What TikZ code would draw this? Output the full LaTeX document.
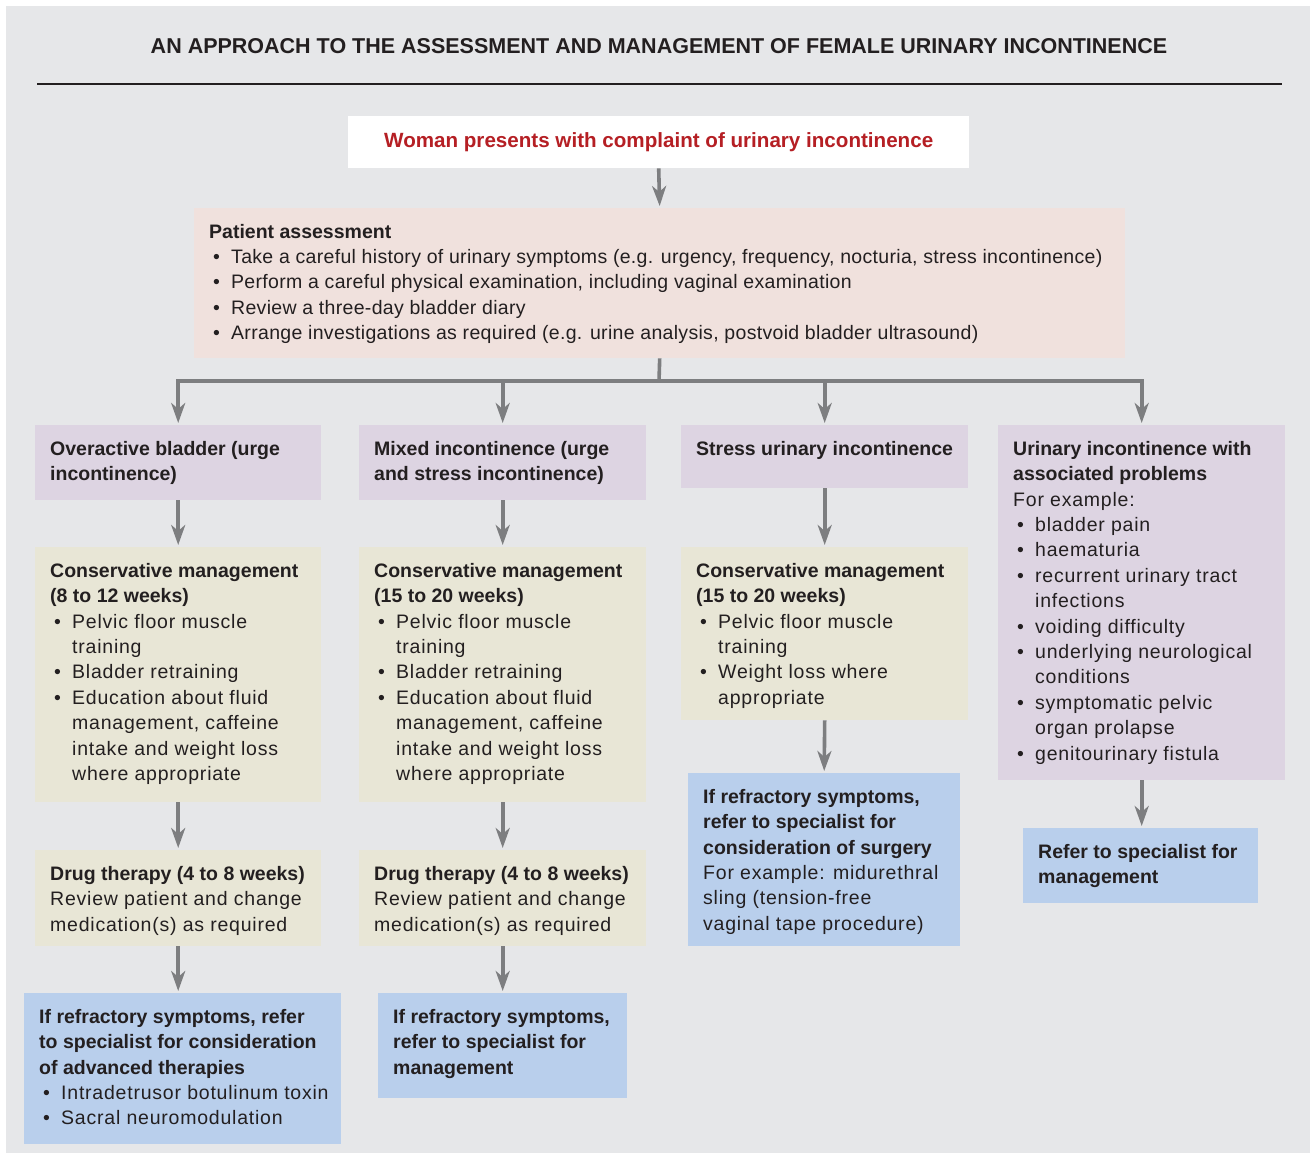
\documentclass[tikz,border=0pt]{standalone}
\usepackage{fontspec}
\setmainfont{Liberation Sans}[LetterSpace=4, BoldFeatures={LetterSpace=0}]
\usetikzlibrary{arrows.meta}
\definecolor{bg}{HTML}{E6E7E9}
\definecolor{pinkc}{HTML}{F0E1DD}
\definecolor{purc}{HTML}{DDD4E2}
\definecolor{beigec}{HTML}{E8E6D6}
\definecolor{bluec}{HTML}{B9CFEC}
\definecolor{arrc}{HTML}{7D7E80}
\definecolor{redc}{HTML}{B51F24}
\definecolor{txt}{HTML}{231F20}
\newcommand\B{\makebox[22pt][l]{\hspace{4pt}•}}
\newcommand\C{\hspace*{22pt}}
\newcommand\tight{\addfontfeature{LetterSpace=1.6}}
\tikzset{
  box/.style={anchor=north west, inner xsep=15pt, inner ysep=14pt, text=txt, draw=none},
  arr/.style={draw=arrc, line width=3.6pt, -{Stealth[length=20pt,width=14pt,inset=6pt]}, shorten >=2pt},
  ln/.style={draw=arrc, line width=3.6pt}
}
\newcommand\bx[7]{\node[box,fill=#6,minimum width=#4pt,minimum height=#5pt] (#1) at (#2,#3) {\makebox[\dimexpr#4pt-30pt\relax][l]{\parbox[t][\dimexpr#5pt-28pt\relax][t]{1000pt}{\raggedright\fontsize{19.5}{25.4}\selectfont\rule{0pt}{16pt}#7}}};}
\begin{document}
\begin{tikzpicture}[x=1pt,y=-1pt]
\useasboundingbox (0,0) rectangle (1310,1153);
\fill[bg] (6,6) rectangle (1310,1153);
\node[font=\bfseries\fontsize{21.5}{24}\selectfont, text=txt] (title) at (659,46) {AN APPROACH TO THE ASSESSMENT AND MANAGEMENT OF FEMALE URINARY INCONTINENCE};
\draw[txt, line width=1.3pt] (37,84) -- (1282,84);
\node[fill=white, minimum width=621pt, minimum height=52pt, anchor=north west, text=redc, font=\bfseries\fontsize{20.6}{24}\selectfont] (woman) at (348,116) {Woman presents with complaint of urinary incontinence};
\bx{assess}{194}{208}{931}{150}{pinkc}{\textbf{Patient assessment}\\
\B {\tight Take a careful history of urinary symptoms (e.g. urgency, frequency, nocturia, stress incontinence)}\\
\B {\tight Perform a careful physical examination, including vaginal examination}\\
\B {\tight Review a three-day bladder diary}\\
\B {\tight Arrange investigations as required (e.g. urine analysis, postvoid bladder ultrasound)}}
% categories
\bx{catA}{35}{425}{286}{75}{purc}{\textbf{Overactive bladder (urge\\ incontinence)}}
\bx{catB}{359}{425}{287}{75}{purc}{\textbf{Mixed incontinence (urge\\ and stress incontinence)}}
\bx{catC}{681}{425}{287}{63}{purc}{\textbf{Stress urinary incontinence}}
\bx{catD}{998}{425}{287}{355}{purc}{\textbf{Urinary incontinence with\\ associated problems}\\
For example:\\
\B bladder pain\\
\B haematuria\\
\B recurrent urinary tract\\ \C infections\\
\B voiding difficulty\\
\B underlying neurological\\ \C conditions\\
\B symptomatic pelvic\\ \C organ prolapse\\
\B genitourinary fistula}
% conservative
\bx{consA}{35}{547}{286}{255}{beigec}{\textbf{Conservative management\\ (8 to 12 weeks)}\\
\B Pelvic floor muscle\\ \C training\\
\B Bladder retraining\\
\B Education about fluid\\ \C management, caffeine\\ \C intake and weight loss\\ \C where appropriate}
\bx{consB}{359}{547}{287}{255}{beigec}{\textbf{Conservative management\\ (15 to 20 weeks)}\\
\B Pelvic floor muscle\\ \C training\\
\B Bladder retraining\\
\B Education about fluid\\ \C management, caffeine\\ \C intake and weight loss\\ \C where appropriate}
\bx{consC}{681}{547}{287}{173}{beigec}{\textbf{Conservative management\\ (15 to 20 weeks)}\\
\B Pelvic floor muscle\\ \C training\\
\B Weight loss where\\ \C appropriate}
% drug
\bx{drugA}{35}{850}{286}{96}{beigec}{\textbf{Drug therapy (4 to 8 weeks)}\\
Review patient and change\\ medication(s) as required}
\bx{drugB}{359}{850}{287}{96}{beigec}{\textbf{Drug therapy (4 to 8 weeks)}\\
Review patient and change\\ medication(s) as required}
% blue
\bx{refA}{24}{993}{317}{151}{bluec}{\textbf{If refractory symptoms, refer\\ to specialist for consideration\\ of advanced therapies}\\
\B Intradetrusor botulinum toxin\\
\B Sacral neuromodulation}
\bx{refB}{378}{993}{249}{105}{bluec}{\textbf{If refractory symptoms,\\ refer to specialist for\\ management}}
\bx{refC}{688}{773}{272}{173}{bluec}{\textbf{If refractory symptoms,\\ refer to specialist for\\ consideration of surgery}\\
For example: midurethral\\ sling (tension-free\\ vaginal tape procedure)}
\bx{refD}{1023}{828}{235}{75}{bluec}{\textbf{Refer to specialist for\\ management}}
% connectors
\draw[arr] (woman.south) -- (assess.north);
\coordinate (bus) at (659,381);
\draw[ln] (assess.south) -- (bus);
\draw[arr] (bus) -| (catA.north);
\draw[arr] (bus) -| (catD.north);
\draw[arr] (catB.north |- bus) -- (catB.north);
\draw[arr] (catC.north |- bus) -- (catC.north);
\draw[arr] (catA.south) -- (consA.north);
\draw[arr] (catB.south) -- (consB.north);
\draw[arr] (catC.south) -- (consC.north);
\draw[arr] (consA.south) -- (drugA.north);
\draw[arr] (consB.south) -- (drugB.north);
\draw[arr] (consC.south) -- (refC.north);
\draw[arr] (drugA.south) -- (refA.north -| drugA.south);
\draw[arr] (drugB.south) -- (refB.north -| drugB.south);
\draw[arr] (catD.south) -- (refD.north -| catD.south);
\end{tikzpicture}
\end{document}
